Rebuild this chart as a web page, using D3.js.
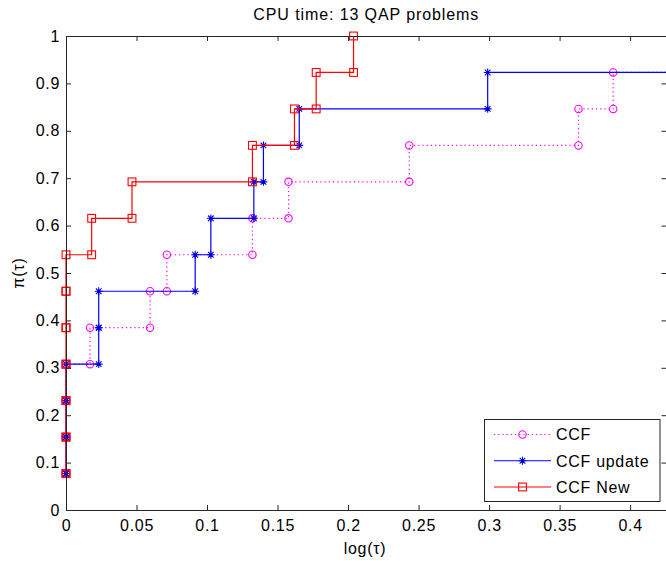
<!DOCTYPE html>
<html>
<head>
<meta charset="utf-8">
<script src="https://cdn.jsdelivr.net/npm/d3@7"></script>
<style>
  body { margin: 0; background: #fff; }
  text { font-family: "Liberation Sans", Arial, sans-serif; }
</style>
</head>
<body>
<div id="chart"></div>
<script>
// sorted log performance ratios per solver (13 problems each)
const ccfTau = [0, 0, 0, 0, 0.017, 0.0596, 0.0715, 0.1322, 0.1578, 0.2434, 0.3634, 0.388, 0.6];
const ccfUpdateTau = [0, 0, 0, 0, 0.0232, 0.0232, 0.0916, 0.1027, 0.1332, 0.140, 0.1654, 0.299, 0.6];
const ccfNewTau = [0, 0, 0, 0, 0, 0, 0, 0.0182, 0.0468, 0.1322, 0.162, 0.1774, 0.2039];
const piValues = [1/13, 2/13, 3/13, 4/13, 5/13, 6/13, 7/13, 8/13, 9/13, 10/13, 11/13, 12/13, 13/13];

const seriesNames = ["CCF", "CCF update", "CCF New"];
const xTicks = [0, 0.05, 0.1, 0.15, 0.2, 0.25, 0.3, 0.35, 0.4];
const yTicks = [0, 0.1, 0.2, 0.3, 0.4, 0.5, 0.6, 0.7, 0.8, 0.9, 1];

const W = 666, H = 561;
const mLeft = 66, mRight = 666.5, mTop = 36, mBottom = 510;
const fontSize = 16, spacing = "0.7px";

const x = d3.scaleLinear().domain([0, 0.4258]).range([mLeft, mRight]);
const y = d3.scaleLinear().domain([0, 1]).range([mBottom, mTop]);

const svg = d3.select("#chart").append("svg")
    .attr("width", W)
    .attr("height", H);

svg.append("defs").append("clipPath").attr("id", "clip")
    .append("rect")
    .attr("x", mLeft - 10).attr("y", mTop - 10)
    .attr("width", mRight - mLeft + 20).attr("height", mBottom - mTop + 20);

// matlab-like stairs: corners (x_i, y_i), (x_{i+1}, y_i)
function stairs(tau) {
    const pts = [];
    tau.forEach((t, i) => {
        if (i > 0) pts.push([t, piValues[i - 1]]);
        pts.push([t, piValues[i]]);
    });
    return pts;
}

const series = [
    { name: seriesNames[0], tau: ccfTau, color: "#ff00ff", dash: "1.2,3", marker: "circle" },
    { name: seriesNames[1], tau: ccfUpdateTau, color: "#0000ff", dash: null, marker: "star" },
    { name: seriesNames[2], tau: ccfNewTau, color: "#ff0000", dash: null, marker: "square" }
];

function drawMarker(g, type, cx, cy, color) {
    if (type === "circle") {
        g.append("circle").attr("cx", cx).attr("cy", cy).attr("r", 3.7)
            .attr("fill", "none").attr("stroke", color).attr("stroke-width", 1.1);
    } else if (type === "square") {
        g.append("rect").attr("x", cx - 3.9).attr("y", cy - 3.9)
            .attr("width", 7.8).attr("height", 7.8)
            .attr("fill", "none").attr("stroke", color).attr("stroke-width", 1.1);
    } else {
        const r = 3.9, d = r * 0.72;
        const p = `M${cx - r},${cy}L${cx + r},${cy}M${cx},${cy - r}L${cx},${cy + r}` +
            `M${cx - d},${cy - d}L${cx + d},${cy + d}M${cx - d},${cy + d}L${cx + d},${cy - d}`;
        g.append("path").attr("d", p).attr("stroke", color).attr("stroke-width", 1.1).attr("fill", "none");
        g.append("circle").attr("cx", cx).attr("cy", cy).attr("r", 1.5).attr("fill", "#0000b0");
    }
}

const plot = svg.append("g").attr("clip-path", "url(#clip)");
const line = d3.line().x(d => x(d[0])).y(d => y(d[1]));

series.forEach(s => {
    const pts = stairs(s.tau);
    const g = plot.append("g");
    g.append("path")
        .datum(pts)
        .attr("fill", "none")
        .attr("stroke", s.color)
        .attr("stroke-width", 1.2)
        .attr("stroke-dasharray", s.dash)
        .attr("d", line);
    pts.filter(p => x(p[0]) <= mRight + 5)
        .forEach(p => drawMarker(g, s.marker, x(p[0]), y(p[1]), s.color));
});

// axes box with inward ticks on all sides
const axisColor = "#262626";
const tickLen = 5;
const axes = svg.append("g");

function styleText(g) {
    g.selectAll(".tick text")
        .attr("font-size", fontSize)
        .attr("font-family", "'Liberation Sans', Arial, sans-serif")
        .attr("letter-spacing", spacing)
        .attr("fill", "#000");
}

axes.append("g")
    .attr("transform", `translate(0,${mBottom})`)
    .call(d3.axisBottom(x).tickValues(xTicks).tickFormat(d3.format("")).tickSizeInner(-tickLen).tickSizeOuter(0).tickPadding(10))
    .call(g => g.select(".domain").attr("stroke", axisColor))
    .call(g => g.selectAll(".tick line").attr("stroke", axisColor))
    .call(styleText);

axes.append("g")
    .attr("transform", `translate(0,${mTop})`)
    .call(d3.axisTop(x).tickValues(xTicks).tickFormat("").tickSizeInner(-tickLen).tickSizeOuter(0))
    .call(g => g.select(".domain").attr("stroke", axisColor))
    .call(g => g.selectAll(".tick line").attr("stroke", axisColor));

axes.append("g")
    .attr("transform", `translate(${mLeft},0)`)
    .call(d3.axisLeft(y).tickValues(yTicks).tickFormat(d3.format("")).tickSizeInner(-tickLen).tickSizeOuter(0).tickPadding(6))
    .call(g => g.select(".domain").attr("stroke", axisColor))
    .call(g => g.selectAll(".tick line").attr("stroke", axisColor))
    .call(styleText);

axes.append("g")
    .attr("transform", `translate(${mRight},0)`)
    .call(d3.axisRight(y).tickValues(yTicks).tickFormat("").tickSizeInner(-tickLen).tickSizeOuter(0))
    .call(g => g.select(".domain").attr("stroke", axisColor))
    .call(g => g.selectAll(".tick line").attr("stroke", axisColor));

// title and labels
svg.append("text")
    .attr("x", (mLeft + mRight) / 2).attr("y", 20)
    .attr("text-anchor", "middle").attr("font-size", fontSize)
    .attr("letter-spacing", "0.9px")
    .text("CPU time: 13 QAP problems");

svg.append("text")
    .attr("x", 365).attr("y", 554)
    .attr("text-anchor", "middle").attr("font-size", fontSize)
    .attr("letter-spacing", spacing)
    .text("log(τ)");

svg.append("text")
    .attr("transform", `translate(24,${(mTop + mBottom) / 2}) rotate(-90)`)
    .attr("text-anchor", "middle").attr("font-size", fontSize)
    .attr("letter-spacing", spacing)
    .text("π(τ)");

// legend
const legend = svg.append("g");
legend.append("rect")
    .attr("x", 484.5).attr("y", 419.5).attr("width", 175.5).attr("height", 82)
    .attr("fill", "#fff").attr("stroke", axisColor).attr("stroke-width", 1);

const legendY = d3.scalePoint().domain(seriesNames).range([434.5, 487]);
series.forEach(s => {
    const ly = legendY(s.name);
    legend.append("line")
        .attr("x1", 494).attr("x2", 551).attr("y1", ly).attr("y2", ly)
        .attr("stroke", s.color).attr("stroke-width", 1.2)
        .attr("stroke-dasharray", s.dash);
    drawMarker(legend, s.marker, 522.5, ly, s.color);
    legend.append("text")
        .attr("x", 556).attr("y", ly).attr("dy", "0.36em")
        .attr("font-size", fontSize)
        .attr("letter-spacing", spacing)
        .text(s.name);
});
</script>
</body>
</html>
